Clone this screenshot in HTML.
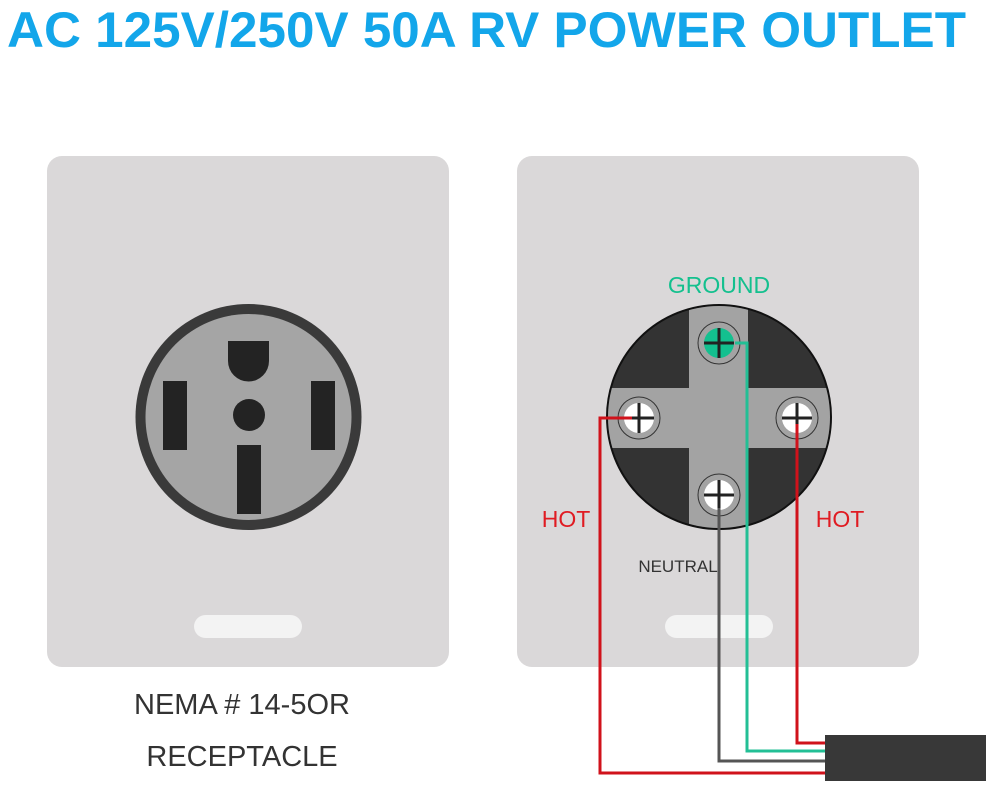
<!DOCTYPE html>
<html><head><meta charset="utf-8"><style>
html,body{margin:0;padding:0;background:#fff;}
body{width:986px;height:789px;overflow:hidden;position:relative;font-family:"Liberation Sans",sans-serif;}
</style></head><body>
<svg width="986" height="789" viewBox="0 0 986 789" xmlns="http://www.w3.org/2000/svg" style="position:absolute;left:0;top:0">
<text x="7" y="47" font-family="Liberation Sans, sans-serif" font-weight="bold" font-size="50" fill="#13a6ea" textLength="959" lengthAdjust="spacingAndGlyphs">AC 125V/250V 50A RV POWER OUTLET</text>
<!-- panels -->
<rect x="47" y="156" width="402" height="511" rx="15" fill="#dad8d9"/>
<rect x="517" y="156" width="402" height="511" rx="15" fill="#dad8d9"/>
<rect x="194" y="615" width="108" height="23" rx="11.5" fill="#f3f3f3"/>
<rect x="665" y="615" width="108" height="23" rx="11.5" fill="#f3f3f3"/>
<!-- left outlet -->
<circle cx="248.5" cy="417" r="113" fill="#3a3a3a"/>
<circle cx="248.5" cy="417" r="103" fill="#a5a5a5"/>
<rect x="163" y="381" width="24" height="69" fill="#232323"/>
<rect x="311" y="381" width="24" height="69" fill="#232323"/>
<rect x="237" y="445" width="24" height="69" fill="#232323"/>
<circle cx="249" cy="415" r="16" fill="#232323"/>
<path d="M228 341 H269 V361 A20.5 20.5 0 0 1 228 361 Z" fill="#232323"/>
<!-- right outlet -->
<circle cx="719" cy="417" r="112" fill="#333" stroke="#111" stroke-width="2"/>
<clipPath id="c"><circle cx="719" cy="417" r="111"/></clipPath>
<g clip-path="url(#c)" fill="#a3a3a3">
<rect x="689" y="300" width="59" height="240"/>
<rect x="600" y="388" width="240" height="60"/>
</g>
<g stroke="#333" stroke-width="1">
<circle cx="719" cy="343" r="21" fill="#a3a3a3"/>
<circle cx="639" cy="418" r="21" fill="#a3a3a3"/>
<circle cx="797" cy="418" r="21" fill="#a3a3a3"/>
<circle cx="719" cy="495" r="21" fill="#a3a3a3"/>
</g>
<circle cx="719" cy="343" r="15" fill="#13c08f"/>
<circle cx="639" cy="418" r="15" fill="#fff"/>
<circle cx="797" cy="418" r="15" fill="#fff"/>
<circle cx="719" cy="495" r="15" fill="#fff"/>
<g stroke="#222" stroke-width="3">
<path d="M704 343H734M719 328V358"/>
<path d="M624 418H654M639 403V433"/>
<path d="M782 418H812M797 403V433"/>
<path d="M704 495H734M719 480V510"/>
</g>
<!-- wires -->
<g fill="none" stroke-width="3">
<polyline points="632,418 600,418 600,773 826,773" stroke="#d0121b"/>
<polyline points="797,424 797,743 826,743" stroke="#d0121b"/>
<polyline points="735,343 747,343 747,751 826,751" stroke="#23bf95"/>
<polyline points="719,508 719,761 826,761" stroke="#555"/>
</g>
<rect x="825" y="735" width="161" height="46" fill="#383838"/>
<!-- labels -->
<text x="719" y="293" text-anchor="middle" font-size="23" fill="#14c08e">GROUND</text>
<text x="566" y="527" text-anchor="middle" font-size="23" fill="#e01b22">HOT</text>
<text x="840" y="527" text-anchor="middle" font-size="23" fill="#e01b22">HOT</text>
<text x="678" y="572" text-anchor="middle" font-size="17" fill="#333">NEUTRAL</text>
<text x="242" y="714" text-anchor="middle" font-size="29" fill="#333">NEMA # 14-5OR</text>
<text x="242" y="766" text-anchor="middle" font-size="29" fill="#333">RECEPTACLE</text>
</svg>
</body></html>
